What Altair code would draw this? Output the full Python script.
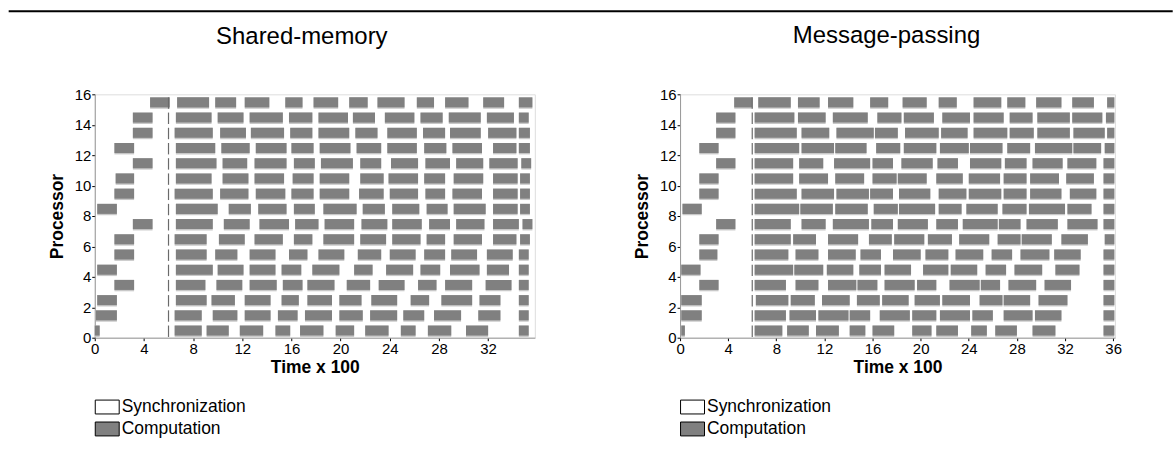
import altair as alt
import pandas as pd

# ---- data (time in units of 100) ----
# each row = one processor (0..15); each pair = (start, end) of a computation bar
SM_ROWS = [
    [(0.0, 0.4), (6.5, 8.7), (9.1, 10.9), (11.8, 13.7), (14.7, 15.9), (16.7, 18.6), (19.6, 21.1), (22.0, 23.9), (24.9, 26.1), (27.1, 29.0), (30.2, 32.0), (34.5, 35.3)],
    [(0.1, 1.8), (6.5, 8.7), (9.6, 11.6), (12.2, 14.3), (14.9, 16.5), (17.1, 19.3), (19.9, 21.8), (22.4, 24.6), (25.1, 26.8), (27.6, 29.8), (31.2, 33.0), (34.5, 35.3)],
    [(0.2, 1.8), (6.6, 9.1), (9.5, 11.4), (12.2, 14.3), (15.2, 16.6), (17.3, 19.3), (19.9, 21.7), (22.5, 24.6), (25.7, 27.2), (28.2, 30.7), (31.3, 33.0), (34.5, 35.3)],
    [(1.6, 3.2), (6.6, 9.0), (9.9, 12.0), (12.6, 14.8), (15.3, 16.9), (17.3, 19.5), (20.5, 22.4), (23.1, 25.2), (26.3, 27.8), (28.5, 30.7), (31.8, 33.9), (34.5, 35.3)],
    [(0.2, 1.8), (6.6, 9.6), (10.0, 12.1), (12.6, 14.7), (15.2, 16.8), (17.7, 19.9), (21.1, 22.6), (23.7, 25.9), (26.5, 28.1), (28.9, 31.3), (31.9, 33.7), (34.5, 35.3)],
    [(1.6, 3.2), (6.6, 9.1), (9.8, 11.6), (12.6, 14.7), (15.8, 17.3), (18.2, 20.3), (21.4, 23.3), (24.0, 26.1), (26.8, 28.5), (29.0, 31.1), (31.9, 34.0), (34.5, 35.3)],
    [(1.6, 3.2), (6.5, 9.1), (10.1, 12.2), (13.0, 15.3), (16.2, 17.7), (18.6, 21.1), (21.6, 23.7), (24.2, 26.5), (27.0, 28.5), (29.2, 31.5), (32.4, 34.3), (34.6, 35.4)],
    [(3.1, 4.7), (6.6, 9.6), (10.5, 12.6), (13.4, 15.8), (16.3, 18.2), (18.7, 21.1), (21.7, 23.8), (24.2, 26.6), (27.2, 28.9), (29.4, 31.7), (32.4, 34.5), (34.8, 35.6)],
    [(0.2, 1.8), (6.6, 10.0), (10.9, 12.7), (13.3, 15.6), (16.2, 17.9), (18.6, 21.3), (21.8, 23.6), (24.2, 26.4), (27.0, 28.7), (29.2, 31.8), (32.4, 34.4), (34.6, 35.4)],
    [(1.6, 3.2), (6.5, 9.6), (10.2, 12.5), (13.1, 15.5), (16.0, 17.8), (18.3, 20.7), (21.5, 23.5), (24.0, 26.3), (26.9, 28.5), (29.1, 31.5), (32.4, 34.4), (34.6, 35.4)],
    [(1.7, 3.2), (6.6, 9.5), (10.4, 12.5), (13.0, 15.4), (16.1, 17.8), (18.3, 20.7), (21.6, 23.5), (23.9, 26.3), (26.8, 28.5), (29.2, 31.6), (32.4, 34.4), (34.6, 35.4)],
    [(3.1, 4.7), (6.6, 9.9), (10.4, 12.4), (13.0, 15.6), (16.2, 17.9), (18.4, 21.0), (21.6, 23.3), (24.1, 26.3), (26.9, 28.9), (29.4, 31.6), (32.1, 34.4), (34.7, 35.5)],
    [(1.6, 3.2), (6.6, 9.8), (10.3, 12.6), (13.1, 15.6), (16.0, 17.8), (18.3, 20.8), (21.3, 23.3), (23.8, 26.2), (26.8, 28.6), (29.1, 31.5), (32.4, 34.3), (34.5, 35.4)],
    [(3.1, 4.7), (6.5, 9.6), (10.2, 12.3), (12.7, 15.4), (15.9, 17.7), (18.2, 20.7), (21.2, 23.0), (23.8, 26.2), (26.7, 28.5), (28.9, 31.4), (32.0, 34.3), (34.5, 35.4)],
    [(3.1, 4.7), (6.6, 9.5), (10.0, 12.1), (12.6, 15.3), (15.8, 17.7), (18.2, 20.6), (21.0, 22.8), (23.6, 26.0), (26.5, 28.3), (28.8, 31.4), (31.9, 34.1), (34.5, 35.3)],
    [(4.5, 6.1), (6.7, 9.3), (9.8, 11.5), (12.2, 14.2), (15.5, 16.9), (17.8, 19.8), (20.7, 22.2), (23.0, 25.2), (26.2, 27.6), (28.5, 30.4), (31.6, 33.3), (34.5, 35.6)],
]

MP_ROWS = [
    [(0.1, 0.4), (6.2, 8.5), (8.9, 10.7), (11.3, 13.2), (14.1, 15.4), (16.0, 17.8), (19.3, 20.9), (21.3, 23.1), (24.2, 25.5), (26.2, 28.0), (29.3, 31.2), (35.2, 36.1)],
    [(0.1, 1.8), (6.2, 8.8), (9.1, 11.3), (11.5, 14.0), (14.1, 15.8), (16.6, 19.1), (19.3, 21.3), (21.6, 24.1), (24.3, 26.0), (26.9, 29.3), (29.5, 31.7), (35.2, 36.1)],
    [(0.1, 1.8), (6.3, 9.0), (9.2, 11.2), (11.8, 14.1), (14.7, 16.6), (16.8, 19.0), (19.5, 21.6), (21.8, 24.1), (24.9, 26.8), (26.9, 29.1), (29.8, 32.2), (35.2, 36.1)],
    [(1.6, 3.2), (6.2, 8.8), (9.6, 11.5), (12.3, 14.65), (14.75, 16.4), (17.0, 19.5), (19.7, 21.3), (22.4, 24.9), (25.0, 26.6), (27.3, 29.6), (30.3, 32.5), (35.2, 36.1)],
    [(0.1, 1.7), (6.2, 9.4), (9.5, 11.9), (12.2, 14.4), (14.9, 16.7), (17.0, 19.2), (20.2, 22.3), (22.5, 24.7), (25.4, 27.1), (27.8, 30.1), (31.2, 33.2), (35.2, 36.1)],
    [(1.6, 3.1), (6.2, 9.0), (9.6, 11.5), (12.3, 14.6), (15.0, 16.7), (17.7, 20.0), (20.4, 22.3), (22.9, 25.2), (25.9, 27.6), (28.3, 30.7), (31.1, 33.3), (35.2, 36.1)],
    [(1.6, 3.2), (6.2, 9.2), (9.4, 11.3), (12.3, 14.8), (15.7, 17.6), (17.8, 20.3), (20.6, 22.6), (23.2, 25.7), (26.4, 28.3), (28.4, 30.9), (31.7, 33.9), (35.3, 36.1)],
    [(3.0, 4.6), (6.2, 9.2), (10.1, 12.1), (12.7, 15.7), (15.9, 17.7), (18.1, 20.6), (21.3, 23.1), (23.5, 26.4), (26.5, 28.3), (28.8, 31.4), (32.2, 34.7), (35.2, 36.1)],
    [(0.2, 1.8), (6.2, 9.9), (10.0, 12.7), (12.9, 15.6), (16.1, 18.1), (18.2, 21.2), (21.5, 23.4), (23.8, 26.4), (26.8, 28.8), (29.0, 32.0), (32.2, 34.2), (35.2, 36.1)],
    [(1.6, 3.2), (6.2, 9.7), (10.1, 12.8), (13.0, 15.7), (15.8, 17.7), (18.2, 20.8), (21.5, 23.8), (24.0, 26.7), (26.9, 28.8), (29.1, 31.7), (32.4, 34.6), (35.2, 36.1)],
    [(1.6, 3.2), (6.2, 9.4), (9.9, 12.3), (12.9, 15.3), (16.0, 18.0), (18.1, 20.5), (21.3, 23.5), (24.0, 26.6), (26.9, 28.8), (29.1, 31.5), (32.1, 34.4), (35.2, 36.1)],
    [(3.0, 4.6), (6.2, 9.4), (9.9, 11.9), (12.8, 15.8), (16.0, 17.7), (18.4, 21.0), (21.4, 23.1), (24.1, 26.7), (27.0, 28.8), (29.3, 31.8), (32.2, 34.6), (35.2, 36.1)],
    [(1.6, 3.2), (6.2, 9.9), (10.1, 12.8), (12.9, 15.5), (16.3, 18.3), (18.6, 21.3), (21.6, 24.0), (24.1, 26.8), (27.2, 29.1), (29.5, 32.6), (32.7, 35.0), (35.3, 36.1)],
    [(3.0, 4.6), (6.2, 9.7), (10.1, 12.4), (13.0, 16.1), (16.2, 18.1), (18.7, 21.5), (21.7, 23.9), (24.4, 27.2), (27.4, 29.4), (29.7, 32.4), (32.7, 35.3), (35.5, 36.1)],
    [(3.0, 4.6), (6.2, 9.5), (9.8, 12.1), (12.7, 15.6), (16.4, 18.4), (18.6, 21.1), (21.8, 24.1), (24.4, 26.9), (27.4, 29.3), (29.7, 32.4), (32.6, 35.1), (35.4, 36.1)],
    [(4.5, 6.0), (6.5, 9.2), (9.8, 11.6), (12.3, 14.4), (15.8, 17.3), (18.5, 20.5), (21.5, 23.0), (24.4, 26.7), (27.2, 28.7), (29.6, 31.7), (32.6, 34.4), (35.5, 36.1)],
]

SYNC_TIME_SM = 6.0
SYNC_TIME_MP = 6.0
LEGEND_ITEMS = ["Synchronization", "Computation"]
LEGEND_COLORS = ["white", "#808080"]
SM_XTICKS = [0, 4, 8, 12, 16, 20, 24, 28, 32]
MP_XTICKS = [0, 4, 8, 12, 16, 20, 24, 28, 32, 36]
Y_TICKS = [0, 2, 4, 6, 8, 10, 12, 14, 16]
SM_XMAX = 35.8
MP_XMAX = 36.15

FONT = "Liberation Sans"


def bars_frame(rows):
    recs = []
    for p, segs in enumerate(rows):
        for s, e in segs:
            recs.append({"proc": p, "start": s, "end": e, "kind": "Computation"})
    return pd.DataFrame(recs)


def panel(rows, sync_time, title, xmax, xticks, width, title_dx, title_offset, top_rule):
    df = bars_frame(rows)
    sync_df = pd.DataFrame({"proc": list(range(16)), "t": [sync_time] * 16})

    xscale = alt.Scale(domain=[0, xmax], nice=False, zero=False)
    yscale = alt.Scale(domain=[0, 16], nice=False, zero=False)
    xaxis = alt.Axis(values=xticks, title="Time x 100", grid=False,
                     labelFont=FONT, labelFontSize=15, labelColor="black",
                     labelPadding=1, tickSize=3, tickColor="black",
                     domainColor="#999999", labelFlush=False,
                     titleFont=FONT, titleFontSize=17.5, titleFontWeight="bold",
                     titleColor="black", titlePadding=2)
    yaxis = alt.Axis(values=Y_TICKS, title="Processor", grid=False,
                     labelFont=FONT, labelFontSize=15, labelColor="black",
                     labelPadding=1, tickSize=3, tickColor="black",
                     domainColor="#999999", labelFlush=False,
                     titleFont=FONT, titleFontSize=17.5, titleFontWeight="bold",
                     titleColor="black", titlePadding=8)

    base = alt.Chart(df).transform_calculate(
        y_lo="datum.proc + 0.05", y_mid="datum.proc + 0.14", y_hi="datum.proc + 0.8"
    )
    shadow = base.mark_rect(color="#c8c8c8").encode(
        x=alt.X("start:Q", scale=xscale, axis=xaxis),
        x2="end:Q",
        y=alt.Y("y_lo:Q", scale=yscale, axis=yaxis),
        y2="y_hi:Q",
    )
    body = base.mark_rect().encode(
        x=alt.X("start:Q", scale=xscale, axis=xaxis),
        x2="end:Q",
        y=alt.Y("y_mid:Q", scale=yscale, axis=yaxis),
        y2="y_hi:Q",
        color=alt.Color(
            "kind:N",
            scale=alt.Scale(domain=LEGEND_ITEMS, range=LEGEND_COLORS),
            legend=alt.Legend(
                title=None, orient="none", legendX=0, legendY=301,
                direction="vertical",
                symbolType="M-1,-0.58H1V0.58H-1Z", symbolSize=576,
                symbolStrokeColor="black", symbolStrokeWidth=1,
                symbolOpacity=1,
                labelFont=FONT, labelFontSize=17.5, labelColor="black",
                labelOffset=2, rowPadding=-3, padding=0,
            ),
        ),
    )
    sync = alt.Chart(sync_df).transform_calculate(
        y_lo="datum.proc + 0.05", y_hi="datum.proc + 0.8"
    ).mark_rule(color="#6a6a6a", strokeWidth=1.2).encode(
        x=alt.X("t:Q", scale=xscale, axis=xaxis),
        y=alt.Y("y_lo:Q", scale=yscale, axis=yaxis),
        y2="y_hi:Q",
    )
    layers = [shadow, body, sync]
    if top_rule:
        rule = alt.Chart(pd.DataFrame({"a": [0]})).mark_rule(
            color="black", strokeWidth=2
        ).encode(x=alt.value(-86.3), x2=alt.value(1175 - 94.3), y=alt.value(-83.3))
        layers.append(rule)
    return alt.layer(*layers).properties(
        width=width, height=244,
        title=alt.TitleParams(title, font=FONT, fontSize=24, fontWeight="normal",
                              color="black", anchor="middle", dx=title_dx,
                              offset=title_offset),
    )


left = panel(SM_ROWS, SYNC_TIME_SM, "Shared-memory", SM_XMAX, SM_XTICKS, 441.2, -13, -38.5, True)
right = panel(MP_ROWS, SYNC_TIME_MP, "Message-passing", MP_XMAX, MP_XTICKS, 436, -11, 39.5, False)

chart = alt.hconcat(left, right, spacing=144.8, bounds="flush").resolve_scale(
    color="independent"
).properties(
    padding={"left": 7, "top": 9, "right": 0, "bottom": 0}
).configure_view(stroke=None).configure(font=FONT)

chart.save("out.html", embed_options={"renderer": "svg", "actions": False})
